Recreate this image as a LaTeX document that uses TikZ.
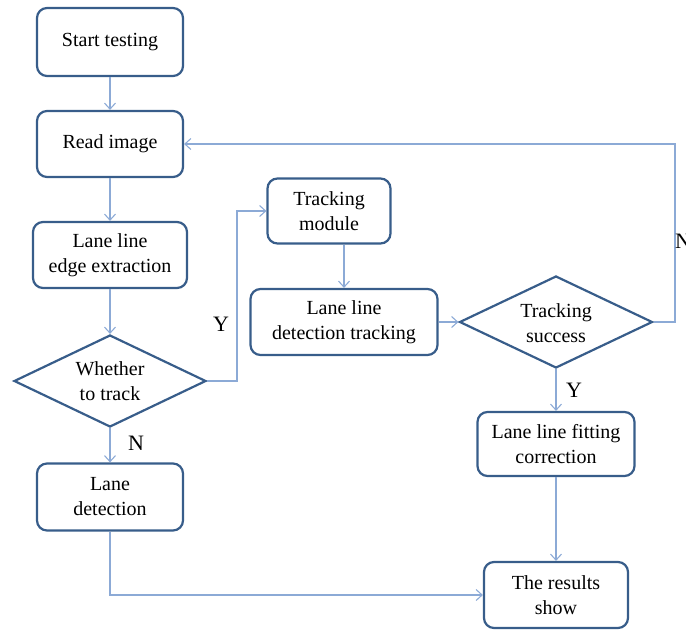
\documentclass[tikz,border=0pt]{standalone}
\usepackage{fontspec}
\setmainfont{Liberation Serif}
\usetikzlibrary{shapes.geometric,arrows.meta,positioning}
\definecolor{boxc}{RGB}{56,93,138}
\definecolor{linec}{RGB}{140,170,214}
\begin{document}
\begin{tikzpicture}[x=1pt,y=-1pt,
  proc/.style={draw=boxc,line width=2.2pt,rounded corners=10pt,align=center,
    font=\fontsize{20}{25}\selectfont,inner sep=0pt},
  dec/.style={draw=boxc,line width=2.2pt,diamond,inner sep=0pt},
  dtext/.style={align=center,font=\fontsize{20}{25}\selectfont,inner sep=0pt},
  conn/.style={draw=linec,line width=1.2pt,-{Straight Barb[length=6pt,width=11pt,line width=1.1pt]}},
  lbl/.style={font=\fontsize{22}{26}\selectfont,inner sep=0pt}]
\useasboundingbox (0,0) rectangle (686,630);
\node[proc,minimum width=146pt,minimum height=68pt] (start) at (110,42) {Start testing};
\node[proc,minimum width=146pt,minimum height=66pt] (read) at (110,144) {Read image};
\node[proc,minimum width=154pt,minimum height=66pt] (edge) at (110,255) {Lane line\\edge extraction};
\node[dec,minimum width=192pt,minimum height=92pt] (wt) at (110,381) {};
\node[dtext] at (110,381) {Whether\\to track};
\node[proc,minimum width=146pt,minimum height=67pt] (lane) at (110,497) {Lane\\detection};
\node[proc,minimum width=123pt,minimum height=65pt] (tm) at (329,211) {Tracking\\module};
\node[proc,minimum width=187pt,minimum height=66pt] (ldt) at (344,322) {Lane line\\detection tracking};
\node[dec,minimum width=193pt,minimum height=92pt] (ts) at (556,322) {};
\node[dtext] at (556,323) {Tracking\\success};
\node[proc,minimum width=157pt,minimum height=64pt] (fit) at (556,444) {Lane line fitting\\correction};
\node[proc,minimum width=144pt,minimum height=66pt] (res) at (556,595) {The results\\show};
\coordinate (c1) at (237,381);
\coordinate (c2) at (237,211);
\coordinate (c3) at (675,322);
\coordinate (c4) at (675,144);
\coordinate (c5) at (110,595);
\draw[conn] (start) -- (read);
\draw[conn] (read) -- (edge);
\draw[conn] (edge) -- (wt.north);
\draw[conn] (wt.south) -- (lane);
\draw[conn] (wt.east) -- (c1) -- (c2) -- (tm.west);
\draw[conn] (tm.south -| ldt.north) -- (ldt.north);
\draw[conn] (ldt.east) -- (ts.west);
\draw[conn] (ts.east) -- (c3) -- (c4) -- (read.east);
\draw[conn] (ts.south) -- (fit.north);
\draw[conn] (fit) -- (res);
\draw[conn] (lane.south) -- (c5) -- (res.west);
\node[lbl] at (136,443) {N};
\node[lbl] at (221,324) {Y};
\node[lbl] at (574,390) {Y};
\node[lbl,anchor=west] at (675,241) {N};
\end{tikzpicture}
\end{document}
